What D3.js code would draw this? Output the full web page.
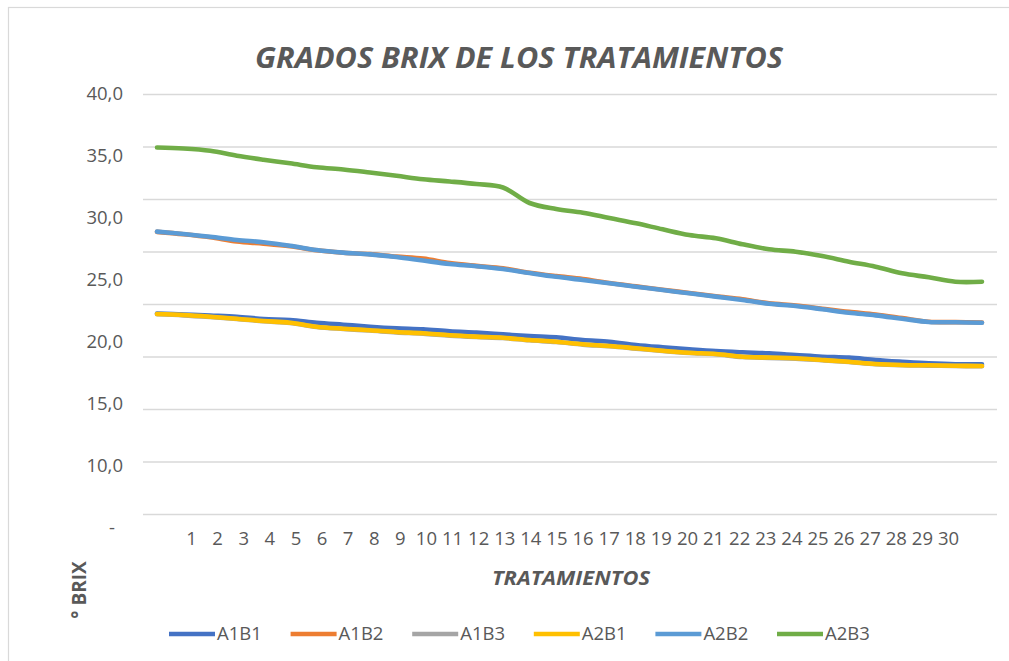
<!DOCTYPE html>
<html>
<head>
<meta charset="utf-8">
<script src="https://cdn.jsdelivr.net/npm/d3@7"></script>
<style>
  html, body { margin: 0; padding: 0; background: #fff; }
  svg { display: block; font-family: "Open Sans", "Noto Sans", sans-serif; }
</style>
</head>
<body>
<svg id="chart" width="1009" height="661"></svg>
<script>
// ---- data ----
const puntos = [1,2,3,4,5,6,7,8,9,10,11,12,13,14,15,16,17,18,19,20,21,22,23,24,25,26,27,28,29,30,31,32];
const xTickLabels = ["1","2","3","4","5","6","7","8","9","10","11","12","13","14","15","16","17","18","19","20","21","22","23","24","25","26","27","28","29","30"];
const yGridValues = [0,5,10,15,20,25,30,35,40];
const yTickLabels = ["40,0","35,0","30,0","25,0","20,0","15,0","10,0","-"];
const seriesNames = ["A1B1","A1B2","A1B3","A2B1","A2B2","A2B3"];
const seriesColors = ["#4472C4","#ED7D31","#A5A5A5","#FFC000","#5B9BD5","#70AD47"];

const A1B1 = [19.10,19.00,18.90,18.79,18.57,18.48,18.22,18.03,17.84,17.69,17.59,17.40,17.27,17.11,16.95,16.83,16.57,16.41,16.10,15.88,15.69,15.52,15.40,15.30,15.14,14.98,14.89,14.67,14.50,14.35,14.26,14.26];
const A1B2 = [26.87,26.64,26.35,25.95,25.75,25.50,25.12,24.88,24.75,24.52,24.33,23.90,23.63,23.40,22.98,22.66,22.38,22.00,21.68,21.36,21.05,20.73,20.45,20.06,19.86,19.55,19.25,19.00,18.66,18.31,18.27,18.24];
const A1B3 = [19.02,18.92,18.76,18.57,18.35,18.19,17.81,17.62,17.47,17.30,17.18,16.99,16.86,16.76,16.54,16.38,16.13,15.97,15.75,15.52,15.33,15.21,14.95,14.87,14.80,14.64,14.47,14.26,14.16,14.13,14.09,14.07];
const A2B1 = [19.05,18.95,18.79,18.60,18.38,18.22,17.84,17.65,17.50,17.33,17.21,17.02,16.89,16.79,16.57,16.41,16.16,16.00,15.78,15.55,15.36,15.24,14.98,14.90,14.83,14.67,14.50,14.29,14.19,14.16,14.12,14.10];
const A2B2 = [26.89,26.67,26.41,26.10,25.88,25.55,25.14,24.89,24.73,24.48,24.14,23.81,23.60,23.33,22.95,22.59,22.29,21.97,21.65,21.33,21.02,20.70,20.38,20.02,19.81,19.50,19.17,18.92,18.60,18.29,18.26,18.22];
const A2B3 = [34.90,34.81,34.59,34.12,33.74,33.40,33.02,32.81,32.52,32.21,31.88,31.67,31.43,31.10,29.62,29.05,28.70,28.19,27.69,27.11,26.57,26.26,25.69,25.21,24.98,24.57,24.03,23.55,22.92,22.54,22.12,22.12];

const seriesValues = [A1B1, A1B2, A1B3, A2B1, A2B2, A2B3];

// ---- drawing ----
const svg = d3.select("#chart");
const textColor = "#595959";
const gridColor = "#d9d9d9";

// chart border
svg.append("rect")
  .attr("x", 8.5).attr("y", 7.5)
  .attr("width", 1010).attr("height", 670)
  .attr("fill", "#fff").attr("stroke", gridColor).attr("stroke-width", 1.2);

const x = d3.scalePoint().domain(puntos).range([157, 982]);
const y = d3.scaleLinear().domain([0, 40]).range([514, 94]);
const yLabelScale = d3.scalePoint().domain(yTickLabels).range([94, 528]);
const xLabelScale = d3.scalePoint().domain(xTickLabels).range([191, 948]);

// gridlines
svg.append("g")
  .attr("transform", "translate(143,0)")
  .call(d3.axisLeft(y).tickValues(yGridValues).tickSize(-854).tickFormat(""))
  .call(g => g.select(".domain").remove())
  .call(g => g.selectAll("line").attr("stroke", gridColor).attr("stroke-width", 1.6));

// y tick labels
svg.append("g")
  .attr("transform", "translate(123,0)")
  .call(d3.axisLeft(yLabelScale).tickSize(0).tickPadding(0))
  .call(g => g.select(".domain").remove())
  .call(g => g.selectAll("text")
     .attr("fill", textColor)
     .style("font-size", "18.5px")
     .style("font-family", "'Open Sans', sans-serif")
     .attr("dx", d => d === "-" ? -8 : 0));

// x tick labels
svg.append("g")
  .attr("transform", "translate(0,532)")
  .call(d3.axisBottom(xLabelScale).tickSize(0).tickPadding(0))
  .call(g => g.select(".domain").remove())
  .call(g => g.selectAll("text")
     .attr("fill", textColor)
     .style("font-size", "18.5px")
     .style("font-family", "'Open Sans', sans-serif"));

// lines
const line = d3.line()
  .x((d, i) => x(puntos[i]))
  .y(d => y(d))
  .curve(d3.curveCatmullRom.alpha(0.5));

svg.append("g").selectAll("path")
  .data(seriesValues)
  .join("path")
  .attr("d", d => line(d))
  .attr("fill", "none")
  .attr("stroke", (d, i) => seriesColors[i])
  .attr("stroke-width", 4.6)
  .attr("stroke-linejoin", "round")
  .attr("stroke-linecap", "round");

// title
svg.append("text")
  .attr("x", 519).attr("y", 68)
  .attr("text-anchor", "middle")
  .attr("fill", textColor)
  .style("font-size", "28px")
  .style("font-weight", "bold")
  .style("font-style", "italic")
  .attr("textLength", 528)
  .attr("lengthAdjust", "spacingAndGlyphs")
  .text("GRADOS BRIX DE LOS TRATAMIENTOS");

// x axis title
svg.append("text")
  .attr("x", 571).attr("y", 585)
  .attr("text-anchor", "middle")
  .attr("fill", textColor)
  .style("font-size", "19px")
  .style("font-weight", "bold")
  .style("font-style", "italic")
  .attr("textLength", 158)
  .attr("lengthAdjust", "spacingAndGlyphs")
  .text("TRATAMIENTOS");

// y axis title
svg.append("text")
  .attr("transform", "translate(86,590) rotate(-90)")
  .attr("text-anchor", "middle")
  .attr("fill", textColor)
  .style("font-size", "19px")
  .style("font-weight", "bold")
  .text("° BRIX");

// legend
const legend = svg.append("g").attr("transform", "translate(0,634)");
const legendX = d3.scalePoint().domain(seriesNames).range([169, 777]);
const items = legend.selectAll("g").data(seriesNames).join("g")
  .attr("transform", d => `translate(${legendX(d)},0)`);
items.append("line")
  .attr("x1", 0).attr("x2", 46).attr("y1", 0).attr("y2", 0)
  .attr("stroke", (d, i) => seriesColors[i])
  .attr("stroke-width", 4.6);
items.append("text")
  .attr("x", 48).attr("y", 0).attr("dy", "0.35em")
  .attr("fill", textColor)
  .style("font-size", "18.5px")
  .text(d => d);
</script>
</body>
</html>
